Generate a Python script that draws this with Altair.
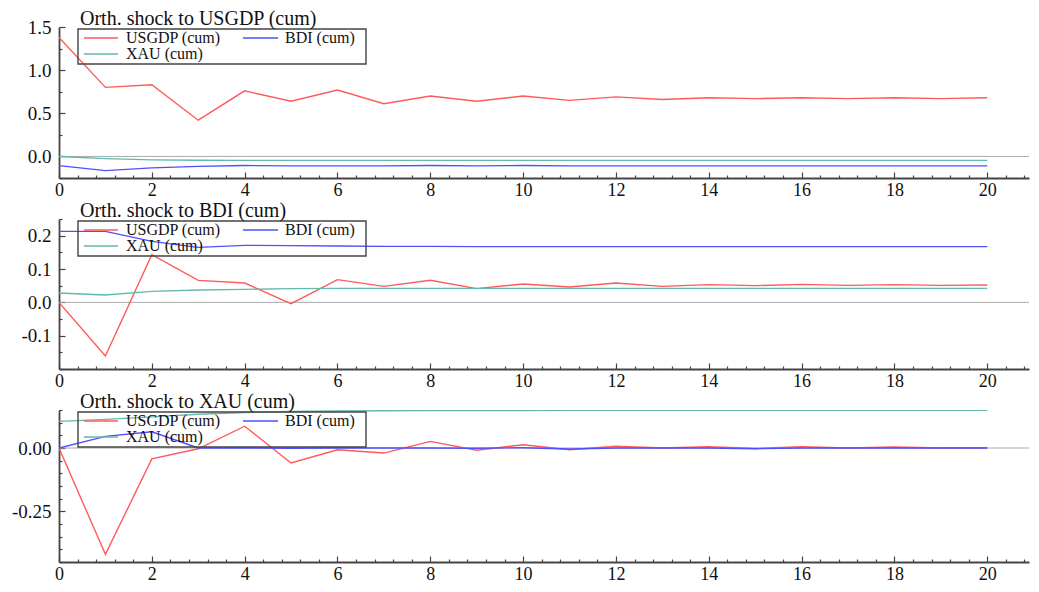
import altair as alt
import pandas as pd

# ---------------- data ----------------
horizon = list(range(21))
series_names = ["USGDP (cum)", "BDI (cum)", "XAU (cum)"]
series_colors = ["#ff5a5a", "#4f4fff", "#62b9ae"]
panel_titles = ["Orth. shock to USGDP (cum)", "Orth. shock to BDI (cum)", "Orth. shock to XAU (cum)"]

# shock to USGDP
usgdp_1 = [1.38, 0.80, 0.83, 0.42, 0.76, 0.64, 0.77, 0.61, 0.70, 0.64, 0.70,
           0.65, 0.69, 0.66, 0.68, 0.67, 0.68, 0.67, 0.68, 0.67, 0.68]
bdi_1 = [-0.106, -0.164, -0.133, -0.115, -0.105, -0.11, -0.11, -0.11, -0.105, -0.11, -0.105,
         -0.11, -0.11, -0.11, -0.11, -0.11, -0.11, -0.11, -0.11, -0.11, -0.11]
xau_1 = [0.0, -0.025, -0.04, -0.045, -0.046, -0.046, -0.046, -0.046, -0.046, -0.046, -0.046,
         -0.046, -0.046, -0.046, -0.046, -0.046, -0.046, -0.046, -0.046, -0.046, -0.046]

# shock to BDI
usgdp_2 = [0.0, -0.161, 0.143, 0.066, 0.058, -0.004, 0.068, 0.048, 0.066, 0.041, 0.055,
           0.046, 0.058, 0.048, 0.053, 0.050, 0.054, 0.051, 0.053, 0.051, 0.052]
bdi_2 = [0.213, 0.213, 0.183, 0.165, 0.171, 0.170, 0.169, 0.168, 0.168, 0.167, 0.167,
         0.167, 0.167, 0.167, 0.167, 0.167, 0.167, 0.167, 0.167, 0.167, 0.167]
xau_2 = [0.028, 0.022, 0.033, 0.037, 0.039, 0.041, 0.042, 0.042, 0.042, 0.042, 0.042,
         0.042, 0.042, 0.042, 0.042, 0.042, 0.042, 0.042, 0.042, 0.042, 0.042]

# shock to XAU
usgdp_3 = [0.0, -0.42, -0.043, -0.003, 0.086, -0.059, -0.007, -0.02, 0.026, -0.009, 0.013,
           -0.007, 0.007, 0.0, 0.005, -0.002, 0.005, 0.0, 0.004, 0.0, 0.001]
bdi_3 = [0.0, 0.046, 0.064, 0.0, 0.0, -0.001, 0.0, 0.0, 0.0, -0.001, 0.001,
         -0.004, 0.0, 0.0, 0.0, -0.003, 0.0, 0.0, 0.0, 0.0, 0.0]
xau_3 = [0.105, 0.113, 0.123, 0.133, 0.140, 0.144, 0.146, 0.147, 0.148, 0.148, 0.148,
         0.149, 0.149, 0.149, 0.149, 0.149, 0.149, 0.149, 0.149, 0.149, 0.149]

panel_series = [
    [usgdp_1, bdi_1, xau_1],
    [usgdp_2, bdi_2, xau_2],
    [usgdp_3, bdi_3, xau_3],
]

y_domains = [[-0.25, 1.5], [-0.2, 0.25], [-0.45, 0.15]]
y_major_ticks = [[0.0, 0.5, 1.0, 1.5], [-0.1, 0.0, 0.1, 0.2], [-0.25, 0.0]]
y_minor_step = [0.25, 0.05, 0.05]
y_formats = [".1f", ".1f", ".2f"]

x_domain = [0, 20.9]
x_major_ticks = [0, 2, 4, 6, 8, 10, 12, 14, 16, 18, 20]
x_minor_step = 0.4

# ---------------- style ----------------
FONT = '"Liberation Serif", "Times New Roman", Times, serif'
AXIS_COLOR = "#444444"
TEXT_COLOR = "#111111"
PANEL_W = 970
PANEL_H = [151, 150, 152]
SPACING = 41

# legend layout inside each panel (pixels relative to the plot area)
LEG_BOX = (19, 307, 2, 37)
LEG_SLOTS = [(25, 59, 67, 11), (184, 219, 226, 11), (25, 59, 67, 27)]  # x1, x2, label x, y


def minor_values(lo, hi, step, majors):
    vals = []
    k = round(lo / step)
    while k * step <= hi + 1e-9:
        v = round(k * step, 6)
        if all(abs(v - m) > 1e-6 for m in majors):
            vals.append(v)
        k += 1
    return vals


def make_panel(i):
    rows = []
    for name, vals in zip(series_names, panel_series[i]):
        for h, v in zip(horizon, vals):
            rows.append({"h": h, "value": v, "series": name})
    df = pd.DataFrame(rows)

    lo, hi = y_domains[i]
    xs = alt.Scale(domain=x_domain, nice=False, zero=False)
    ys = alt.Scale(domain=[lo, hi], nice=False, zero=False)

    major_x = alt.Axis(
        values=x_major_ticks, format=".0f", orient="bottom",
        tickSize={"expr": "-6"}, labelPadding=9, labelFlush=False,
        labelFontSize=18, labelOverlap=False, title=None,
    )
    major_y = alt.Axis(
        values=y_major_ticks[i], format=y_formats[i], orient="left",
        labelExpr="replace(datum.label, '\u2212', '-')",
        tickSize={"expr": "-6"}, labelPadding=14, labelOverlap=False, title=None,
    )
    minor_x = alt.Axis(
        values=minor_values(x_domain[0], x_domain[1], x_minor_step, x_major_ticks),
        orient="bottom", labels=False, domain=False, tickSize={"expr": "-3"}, title=None,
    )
    minor_y = alt.Axis(
        values=minor_values(lo, hi, y_minor_step[i], y_major_ticks[i]),
        orient="left", labels=False, domain=False, tickSize={"expr": "-3"}, title=None,
    )

    # zero reference line (carries the minor-tick axes)
    zero = alt.Chart(pd.DataFrame({"z": [0]})).mark_rule(
        color="#aaaaaa", strokeWidth=1
    ).encode(
        x=alt.X(datum=x_domain[0], type="quantitative", scale=xs, axis=minor_x),
        x2=alt.X2(datum=x_domain[1]),
        y=alt.Y(datum=0, type="quantitative", scale=ys, axis=minor_y),
    )

    lines = alt.Chart(df).mark_line(strokeWidth=1.4, clip=True).encode(
        x=alt.X("h:Q", scale=xs, axis=major_x),
        y=alt.Y("value:Q", scale=ys, axis=major_y),
        color=alt.Color(
            "series:N",
            scale=alt.Scale(domain=series_names, range=series_colors),
            legend=None,
        ),
        detail="series:N",
    )

    title = alt.Chart(pd.DataFrame({"t": [panel_titles[i]]})).mark_text(
        align="left", baseline="alphabetic", font=FONT, fontSize=20, color=TEXT_COLOR
    ).encode(x=alt.value(21), y=alt.value(-2), text="t:N")

    # legend box
    bx1, bx2, by1, by2 = LEG_BOX
    box = alt.Chart(pd.DataFrame({"k": [0]})).mark_rect(
        fill="transparent", stroke=AXIS_COLOR, strokeWidth=1.4
    ).encode(x=alt.value(bx1), x2=alt.value(bx2), y=alt.value(by1), y2=alt.value(by2))

    leg_layers = [box]
    for name, color, (sx1, sx2, lx, ly) in zip(series_names, series_colors, LEG_SLOTS):
        leg_layers.append(
            alt.Chart(pd.DataFrame({"s": [name]})).mark_rule(color=color, strokeWidth=1.5).encode(
                x=alt.value(sx1), x2=alt.value(sx2), y=alt.value(ly)
            )
        )
        leg_layers.append(
            alt.Chart(pd.DataFrame({"s": [name]})).mark_text(
                align="left", baseline="middle", font=FONT, fontSize=16, color=TEXT_COLOR
            ).encode(x=alt.value(lx), y=alt.value(ly), text="s:N")
        )

    return (
        alt.layer(zero, lines, *leg_layers, title)
        .resolve_axis(x="independent", y="independent")
        .properties(width=PANEL_W, height=PANEL_H[i])
    )


chart = (
    alt.vconcat(make_panel(0), make_panel(1), make_panel(2), spacing=SPACING, bounds="flush")
    .properties(padding={"top": 0, "left": 2, "right": 0, "bottom": 0}, background="white")
    .configure_view(stroke="transparent")
    .configure_axis(
        domainColor=AXIS_COLOR,
        domainWidth=1.8,
        tickColor=AXIS_COLOR,
        tickWidth=1.2,
        labelFont=FONT,
        labelFontSize=19,
        labelColor=TEXT_COLOR,
        grid=False,
    )
)

chart.save("out.html", embed_options={"renderer": "svg", "actions": False})
